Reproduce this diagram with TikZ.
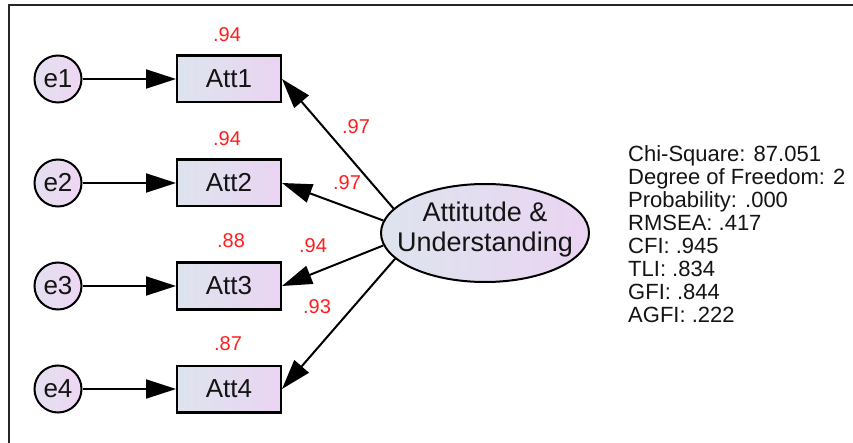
\documentclass[tikz,border=0pt]{standalone}
\usepackage{fontspec}
\setmainfont{Liberation Sans}
\usetikzlibrary{arrows.meta,shapes.geometric}
\definecolor{boxL}{RGB}{222,228,238}
\definecolor{boxR}{RGB}{234,212,242}
\definecolor{errL}{RGB}{228,224,240}
\definecolor{errR}{RGB}{238,214,242}
\definecolor{coef}{RGB}{255,30,30}
\definecolor{ink}{RGB}{20,20,20}
\begin{document}
\begin{tikzpicture}[x=1pt,y=-1pt,
  obsbox/.style={draw=black, line width=2.4pt, rectangle, minimum width=103.6pt,
    minimum height=46.6pt, inner sep=0pt, left color=boxL, right color=boxR,
    text=ink, font=\fontsize{26}{30}\selectfont},
  errnode/.style={draw=black, line width=2pt, circle, minimum size=47pt,
    inner sep=0pt, left color=errL, right color=errR, text=ink,
    font=\fontsize{26}{30}\selectfont},
  latent/.style={draw=black, line width=2pt, ellipse, minimum width=208pt,
    minimum height=98pt, inner sep=0pt, left color=boxL, right color=boxR},
  latenttext/.style={align=center, inner sep=0pt, text=ink,
    font=\fontsize{27}{30}\selectfont},
  path/.style={draw=black, line width=2pt, -{Triangle[length=30pt,width=19pt]}},
  coeflabel/.style={text=coef, inner sep=0pt, font=\fontsize{20}{24}\selectfont},
  fitline/.style={anchor=base west, inner sep=0pt, text=ink,
    font=\fontsize{22}{23}\selectfont},
]
\useasboundingbox (0,0) rectangle (853,443);
\fill[white] (0,0) rectangle (853,443);

% outer frame
\draw[line width=2pt, black!85] (9,443) -- (9,5) -- (853,5);

% error terms
\node[errnode] (e1) at (58,79)  {e1};
\node[errnode] (e2) at (58,183) {e2};
\node[errnode] (e3) at (58,286) {e3};
\node[errnode] (e4) at (58,389) {e4};

% observed indicators
\node[obsbox] (A1) at (229,79)  {Att1};
\node[obsbox] (A2) at (229,183) {Att2};
\node[obsbox] (A3) at (229,286) {Att3};
\node[obsbox] (A4) at (229,389) {Att4};

% latent factor
\node[latent] (F) at (485,233) {};
\node[latenttext] (Ft) at (485,230) {Attitutde \&\\Understanding};

% error paths
\draw[path] (e1) -- (A1);
\draw[path] (e2) -- (A2);
\draw[path] (e3) -- (A3);
\draw[path] (e4) -- (A4);

% factor loadings
\draw[path] (F.165) -- (A1.east);
\draw[path] (F.173) -- (A2.east);
\draw[path] (F.187) -- (A3.east);
\draw[path] (F.196) -- (A4.east);

% squared multiple correlations
\node[coeflabel] (r1) at (227,35)  {.94};
\node[coeflabel] (r2) at (227,139) {.94};
\node[coeflabel] (r3) at (231,241) {.88};
\node[coeflabel] (r4) at (228,344) {.87};

% standardized loadings
\node[coeflabel] (l1) at (356,127) {.97};
\node[coeflabel] (l2) at (347,183) {.97};
\node[coeflabel] (l3) at (313,246) {.94};
\node[coeflabel] (l4) at (317,307) {.93};

% model fit summary
\node[fitline] (s1) at (628,162) {Chi-Square: 87.051};
\node[fitline] (s2) at (628,185) {Degree of Freedom: 2};
\node[fitline] (s3) at (628,208) {Probability: .000};
\node[fitline] (s4) at (628,231) {RMSEA: .417};
\node[fitline] (s5) at (628,254) {CFI: .945};
\node[fitline] (s6) at (628,277) {TLI: .834};
\node[fitline] (s7) at (628,300) {GFI: .844};
\node[fitline] (s8) at (628,323) {AGFI: .222};
\end{tikzpicture}
\end{document}
